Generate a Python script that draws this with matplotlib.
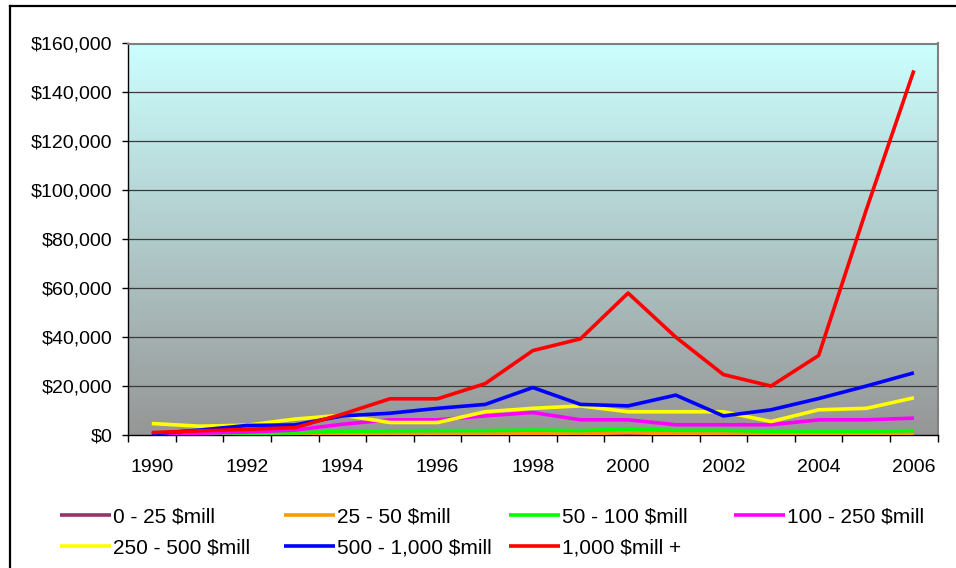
import matplotlib
matplotlib.use("Agg")
import matplotlib.pyplot as plt
import numpy as np
from matplotlib.lines import Line2D
from matplotlib.ticker import FuncFormatter, FixedLocator

plt.rcParams['font.family'] = ['Liberation Sans', 'DejaVu Sans']

years = list(range(1990, 2007))
series_names = ["0 - 25 $mill", "25 - 50 $mill", "50 - 100 $mill", "100 - 250 $mill",
                "250 - 500 $mill", "500 - 1,000 $mill", "1,000 $mill +"]
s_0_25 = [100, 100, 100, 100, 100, 100, 100, 100, 100, 100, 100, 100, 100, 100, 100, 100, 100]
s_25_50 = [200, 200, 200, 300, 300, 300, 300, 400, 500, 500, 1000, 500, 400, 400, 300, 300, 300]
s_50_100 = [200, 400, 600, 900, 1500, 1700, 1800, 1800, 2000, 1800, 2400, 1900, 1900, 1500, 1500, 1500, 1800]
s_100_250 = [300, 700, 1200, 2000, 4400, 6200, 6200, 7800, 9200, 6200, 6200, 4200, 4200, 4200, 6200, 6200, 6900]
s_250_500 = [4700, 3600, 4000, 6500, 8100, 5100, 5100, 9500, 10900, 11900, 9500, 9500, 9500, 5500, 10300, 10900, 15200]
s_500_1000 = [500, 2000, 3900, 4100, 7800, 8900, 10900, 12500, 19400, 12500, 11900, 16300, 7800, 10300, 14900, 20000, 25400]
s_1000_plus = [1000, 1700, 2300, 3000, 8500, 14800, 14800, 21000, 34500, 39300, 58000, 40000, 24700, 20000, 32500, 92000, 149000]
colors = ["#993366", "#FF9900", "#00FF00", "#FF00FF", "#FFFF00", "#0000FF", "#FF0000"]
all_series = [s_0_25, s_25_50, s_50_100, s_100_250, s_250_500, s_500_1000, s_1000_plus]
y_ticks = [0, 20000, 40000, 60000, 80000, 100000, 120000, 140000, 160000]

W, H = 956, 568
fig = plt.figure(figsize=(W / 100, H / 100), dpi=100)
fig.patch.set_facecolor("white")
ax = fig.add_axes([128 / W, 1 - 435 / H, (937.7 - 128) / W, (435 - 43.5) / H])

x = np.arange(len(years))

# gradient background: gray at bottom, light cyan at top
grad = np.linspace(0, 1, 256).reshape(-1, 1)
top = np.array([0xCC, 0xFF, 0xFF]) / 255
bot = np.array([0x96, 0x96, 0x96]) / 255
img = bot[None, None, :] * (1 - grad[:, :, None]) + top[None, None, :] * grad[:, :, None]
ax.imshow(img, extent=[-0.5, len(years) - 0.5, 0, 160000], aspect='auto', zorder=0, origin='lower')
ax.set_xlim(-0.5, len(years) - 0.5)
ax.set_ylim(0, 160000)

for yt in y_ticks[1:-1]:
    ax.axhline(yt, color="#3a3a3a", lw=0.9, zorder=1)

lines = []
for vals, c, name in zip(all_series, colors, series_names):
    ln, = ax.plot(x, vals, color=c, lw=2.6, label=name, zorder=3, solid_capstyle='butt')
    lines.append(ln)

ax.set_yticks(y_ticks)
ax.yaxis.set_major_formatter(FuncFormatter(lambda v, p: "${:,.0f}".format(v)))
ax.tick_params(axis='y', length=4, width=1, pad=7, labelsize=14, direction='out')

ax.xaxis.set_major_locator(FixedLocator(np.arange(-0.5, len(years), 1.0)))
ax.xaxis.set_minor_locator(FixedLocator(x[::2]))
ax.set_xticklabels([])
ax.xaxis.set_minor_formatter(FuncFormatter(lambda v, p: str(years[int(round(v))])))
ax.tick_params(axis='x', which='major', length=5, width=1, direction='out')
ax.tick_params(axis='x', which='minor', length=0, pad=17, labelsize=14)

for s in ['top', 'right']:
    ax.spines[s].set_color("#808080")
    ax.spines[s].set_linewidth(1.5)
for s in ['left', 'bottom']:
    ax.spines[s].set_color("black")
    ax.spines[s].set_linewidth(1)

# legend: four columns
cols = [[0, 4], [1, 5], [2, 6], [3]]
col_x = [60, 284, 509, 734]
for ci, idxs in zip(col_x, cols):
    fig.legend([lines[i] for i in idxs], [series_names[i] for i in idxs],
               loc='upper left', bbox_to_anchor=(ci / W, 1 - 507 / H),
               frameon=False, fontsize=15, handlelength=2.45, handletextpad=0.08,
               labelspacing=0.58, borderaxespad=0, borderpad=0)

# outer border (top and left)
fig.add_artist(Line2D([10 / W, 10 / W], [0, 1 - 6 / H], color="black", lw=1.6))
fig.add_artist(Line2D([10 / W, 1], [1 - 6 / H, 1 - 6 / H], color="black", lw=1.6))

fig.savefig("out.png", dpi=100)
